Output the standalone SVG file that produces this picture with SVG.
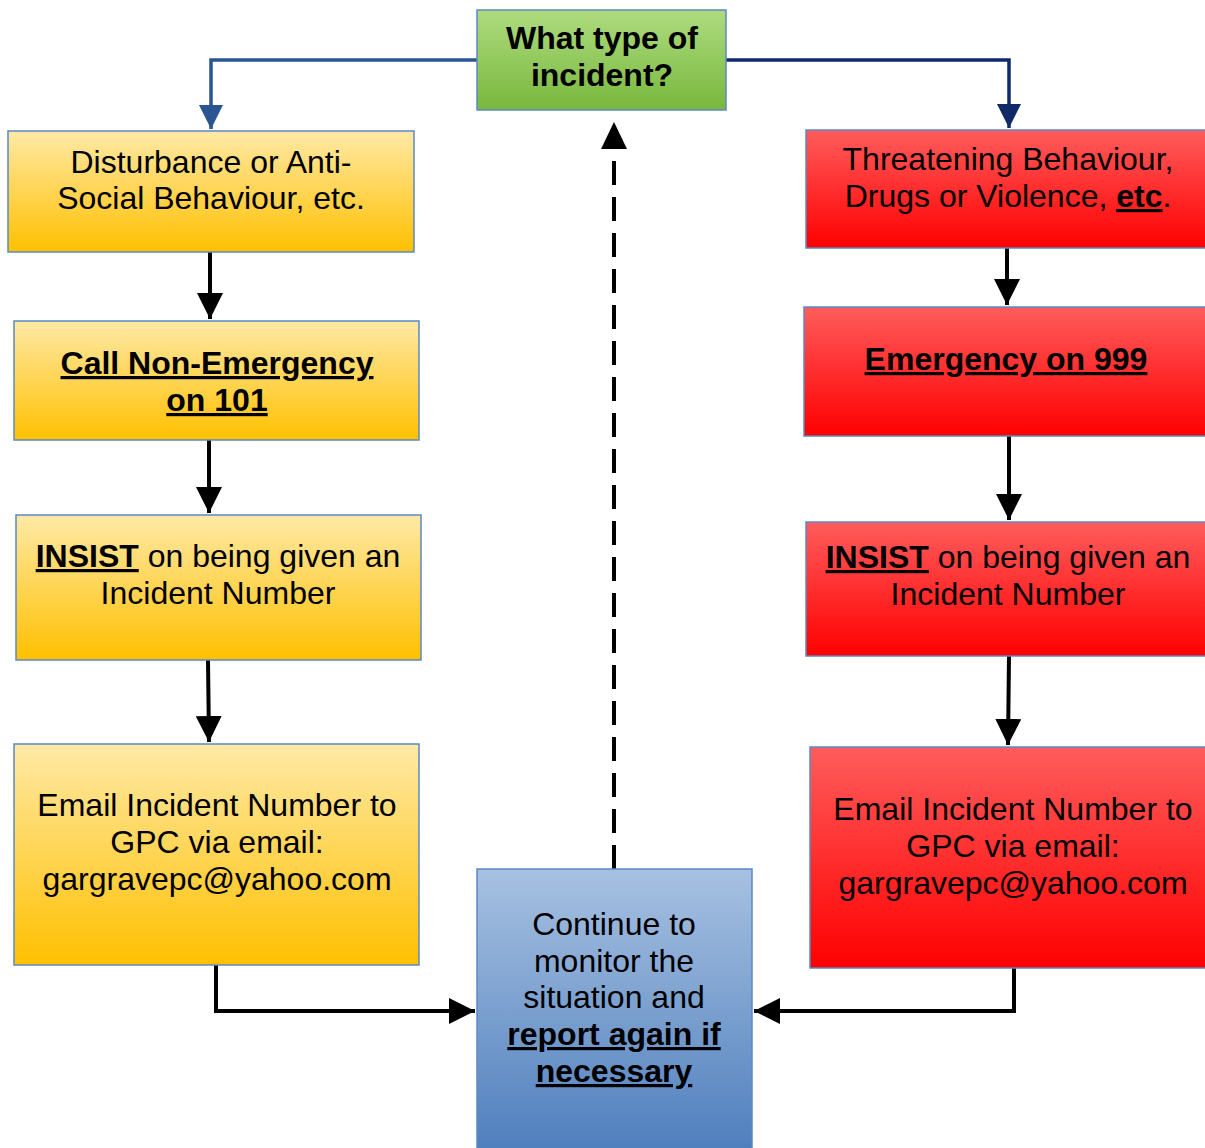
<svg xmlns="http://www.w3.org/2000/svg" width="1205" height="1148" viewBox="0 0 1205 1148">
<defs>
<linearGradient id="gY" x1="0" y1="0" x2="0" y2="1"><stop offset="0" stop-color="#ffe9a6"/><stop offset="1" stop-color="#ffc000"/></linearGradient>
<linearGradient id="gR" x1="0" y1="0" x2="0" y2="1"><stop offset="0" stop-color="#ff5c5c"/><stop offset="1" stop-color="#ff0000"/></linearGradient>
<linearGradient id="gG" x1="0" y1="0" x2="0" y2="1"><stop offset="0" stop-color="#aedb7f"/><stop offset="1" stop-color="#78b83d"/></linearGradient>
<linearGradient id="gB" x1="0" y1="0" x2="0" y2="1"><stop offset="0" stop-color="#a7c1e1"/><stop offset="1" stop-color="#4e7ebd"/></linearGradient>
<marker id="aK" viewBox="0 0 10 10" refX="10" refY="5" markerWidth="6.5" markerHeight="6.5" markerUnits="strokeWidth" orient="auto"><path d="M0,0 L10,5 L0,10 z" fill="#000"/></marker>
<marker id="aB1" viewBox="0 0 10 10" refX="10" refY="5" markerWidth="7" markerHeight="7" markerUnits="strokeWidth" orient="auto"><path d="M0,0 L10,5 L0,10 z" fill="#2a5590"/></marker>
<marker id="aB2" viewBox="0 0 10 10" refX="10" refY="5" markerWidth="7" markerHeight="7" markerUnits="strokeWidth" orient="auto"><path d="M0,0 L10,5 L0,10 z" fill="#0f2a66"/></marker>
</defs>
<style>
.box{stroke:#5b89c4;stroke-width:1.5}
.t{font-family:"Liberation Sans",Arial,sans-serif;font-size:32px;fill:#000;text-anchor:middle}
.b{font-weight:bold}
.u{text-decoration:underline}
.k{fill:none;stroke:#000;stroke-width:4}
</style>
<g id="connectors">
<path d="M477,60 H211 V129" fill="none" stroke="#2a5590" stroke-width="3.5" marker-end="url(#aB1)"/>
<path d="M726,60 H1009 V128" fill="none" stroke="#0f2a66" stroke-width="3.5" marker-end="url(#aB2)"/>
<path class="k" d="M210,252 V319" marker-end="url(#aK)"/>
<path class="k" d="M209,440 V513" marker-end="url(#aK)"/>
<path class="k" d="M208,660 L209,742" marker-end="url(#aK)"/>
<path class="k" d="M216,965 V1011 H475" marker-end="url(#aK)"/>
<path class="k" d="M1007,248 V305" marker-end="url(#aK)"/>
<path class="k" d="M1009,436 V520" marker-end="url(#aK)"/>
<path class="k" d="M1009,656 L1008,745" marker-end="url(#aK)"/>
<path class="k" d="M1014,968 V1011 H754" marker-end="url(#aK)"/>
<path class="k" d="M614,869 V148" stroke-dasharray="24,12"/>
<path d="M614,122 L601,149 L627,149 z" fill="#000"/>
</g>
<g id="n-top">
<rect class="box" x="477" y="10" width="249" height="100" fill="url(#gG)"/>
<text class="t b" x="602" y="49">What type of</text>
<text class="t b" x="602" y="86">incident?</text>
</g>
<g id="n-l1">
<rect class="box" x="8" y="131" width="406" height="121" fill="url(#gY)"/>
<text class="t" x="211" y="173">Disturbance or Anti-</text>
<text class="t" x="211" y="209">Social Behaviour, etc.</text>
</g>
<g id="n-l2">
<rect class="box" x="14" y="321" width="405" height="119" fill="url(#gY)"/>
<text class="t b u" x="217" y="374">Call Non-Emergency</text>
<text class="t b u" x="217" y="411">on 101</text>
</g>
<g id="n-l3">
<rect class="box" x="16" y="515" width="405" height="145" fill="url(#gY)"/>
<text class="t" x="218" y="567"><tspan class="b u">INSIST</tspan> on being given an</text>
<text class="t" x="218" y="604">Incident Number</text>
</g>
<g id="n-l4">
<rect class="box" x="14" y="744" width="405" height="221" fill="url(#gY)"/>
<text class="t" x="217" y="816">Email Incident Number to</text>
<text class="t" x="217" y="853">GPC via email:</text>
<text class="t" x="217" y="890">gargravepc@yahoo.com</text>
</g>
<g id="n-r1">
<rect class="box" x="806" y="130" width="406" height="118" fill="url(#gR)"/>
<text class="t" x="1008" y="170">Threatening Behaviour,</text>
<text class="t" x="1008" y="207">Drugs or Violence, <tspan class="b u">etc</tspan>.</text>
</g>
<g id="n-r2">
<rect class="box" x="804" y="307" width="408" height="129" fill="url(#gR)"/>
<text class="t b u" x="1006" y="370">Emergency on 999</text>
</g>
<g id="n-r3">
<rect class="box" x="806" y="522" width="406" height="134" fill="url(#gR)"/>
<text class="t" x="1008" y="568"><tspan class="b u">INSIST</tspan> on being given an</text>
<text class="t" x="1008" y="605">Incident Number</text>
</g>
<g id="n-r4">
<rect class="box" x="810" y="747" width="402" height="221" fill="url(#gR)"/>
<text class="t" x="1013" y="820">Email Incident Number to</text>
<text class="t" x="1013" y="857">GPC via email:</text>
<text class="t" x="1013" y="894">gargravepc@yahoo.com</text>
</g>
<g id="n-center">
<rect class="box" x="477" y="869" width="275" height="285" fill="url(#gB)"/>
<text class="t" x="614" y="935">Continue to</text>
<text class="t" x="614" y="972">monitor the</text>
<text class="t" x="614" y="1008">situation and</text>
<text class="t b u" x="614" y="1045">report again if</text>
<text class="t b u" x="614" y="1082">necessary</text>
</g>
</svg>
